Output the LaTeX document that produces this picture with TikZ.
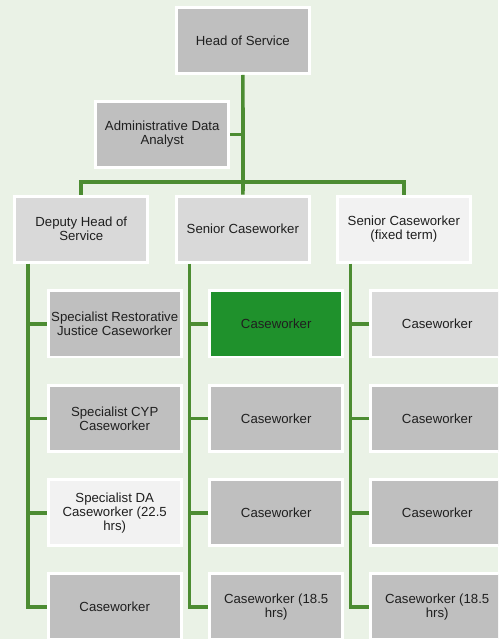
\documentclass[tikz,border=0pt]{standalone}
\usepackage{fontspec}
\setmainfont{Liberation Sans}
\definecolor{bgc}{RGB}{234,242,230}
\definecolor{lnc}{RGB}{76,140,50}
\definecolor{gA}{RGB}{191,191,191}
\definecolor{gB}{RGB}{217,217,217}
\definecolor{gC}{RGB}{242,242,242}
\definecolor{grn}{RGB}{31,145,44}
\begin{document}
\begin{tikzpicture}[x=1pt,y=-1pt,
  box/.style={draw=white,line width=2.8pt,minimum width=132.9pt,minimum height=66.2pt,
    inner sep=0pt,align=center,font=\fontsize{13.2}{14}\selectfont,text=black!88},
  conn/.style={draw=lnc,line width=3.7pt,line join=miter,line cap=butt}]
\path[use as bounding box] (0,0) rectangle (498,639);
\begin{scope}
\clip (0,0) rectangle (498,639);
\fill[bgc] (0,0) rectangle (498,639);
% level 1
\node[box,fill=gA] (head) at (242.85,40.5) {Head of Service};
\node[box,fill=gA] (admin) at (162.2,134.5) {Administrative Data\\Analyst};
% level 2
\node[box,fill=gB] (dep) at (81.3,229.2) {Deputy Head of\\Service};
\node[box,fill=gB] (sen) at (242.85,229.2) {Senior Caseworker};
\node[box,fill=gC] (fix) at (403.85,229.2) {Senior Caseworker\\(fixed term)};
% column 1
\node[box,fill=gA] (a1) at (114.7,323.8) {Specialist Restorative\\Justice Caseworker};
\node[box,fill=gA] (a2) at (114.7,418.6) {Specialist CYP\\Caseworker};
\node[box,fill=gC] (a3) at (114.7,512.7) {Specialist DA\\Caseworker (22.5\\hrs)};
\node[box,fill=gA] (a4) at (114.7,606.7) {Caseworker};
% column 2
\node[box,fill=grn] (b1) at (276.2,323.8) {Caseworker};
\node[box,fill=gA] (b2) at (276.2,418.6) {Caseworker};
\node[box,fill=gA] (b3) at (276.2,512.7) {Caseworker};
\node[box,fill=gA] (b4) at (276.2,606.7) {Caseworker (18.5\\hrs)};
% column 3
\node[box,fill=gB] (c1) at (437.2,323.8) {Caseworker};
\node[box,fill=gA] (c2) at (437.2,418.6) {Caseworker};
\node[box,fill=gA] (c3) at (437.2,512.7) {Caseworker};
\node[box,fill=gA] (c4) at (437.2,606.7) {Caseworker (18.5\\hrs)};
% connectors
\coordinate (bar) at (243,182);
\draw[conn] (head.south) -- (bar);
\draw[conn] (admin.east) -- (admin.east -| bar);
\draw[conn] (dep.north) |- (bar) -| (fix.north);
\draw[conn] (bar) -- (sen.north);
\foreach \p/\c in {dep/a,sen/b,fix/c}{
  \coordinate (\p v) at ([xshift=14.6pt]\p.south west);
  \draw[conn] (\p v) |- (\c4.west);
  \foreach \r in {1,2,3}{
    \draw[conn] (\c\r.west) -- (\c\r.west -| \p v);
  }
}
\end{scope}
\end{tikzpicture}
\end{document}
